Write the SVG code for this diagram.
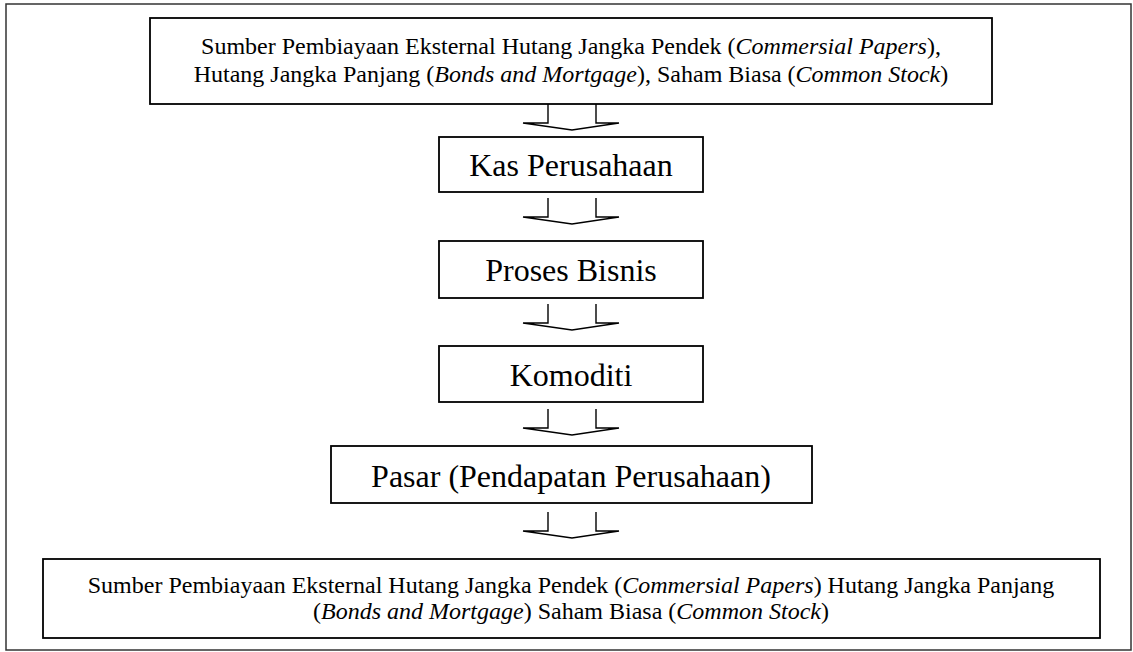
<svg xmlns="http://www.w3.org/2000/svg" width="1133" height="652" viewBox="0 0 1133 652">
  <style>
    .frame { fill: #ffffff; stroke: #333333; stroke-width: 1.5; }
    .box { fill: #ffffff; stroke: #000000; stroke-width: 1.8; }
    .arrow { fill: #ffffff; stroke: #000000; stroke-width: 1.4; stroke-linejoin: miter; }
    text { font-family: "Liberation Serif", "Times New Roman", "DejaVu Serif", serif; fill: #000000; text-anchor: middle; }
    .small { font-size: 24px; }
    .big { font-size: 32px; }
    .it { font-style: italic; font-family: "Liberation Serif", "Times New Roman", "DejaVu Serif", serif; }
  </style>
  <defs>
    <!-- hollow block arrow pointing down; origin at the top centre of the shaft -->
    <path id="blockArrow" class="arrow" d="M -24 0 L -24 19 L -49 19 L 0 26 L 47 19 L 24 19 L 24 0"/>
  </defs>

  <rect class="frame" x="6" y="4" width="1125" height="646"/>

  <g id="connectors">
    <use href="#blockArrow" x="572" y="104"/>
    <use href="#blockArrow" x="572" y="198"/>
    <use href="#blockArrow" x="572" y="304"/>
    <use href="#blockArrow" x="572" y="409"/>
    <use href="#blockArrow" x="572" y="512"/>
  </g>

  <g id="node-sumber-atas">
    <rect class="box" x="150" y="18" width="842" height="86"/>
    <text class="small" x="571" y="54">Sumber Pembiayaan Eksternal Hutang Jangka Pendek (<tspan class="it">Commersial Papers</tspan>),</text>
    <text class="small" x="571" y="82">Hutang Jangka Panjang (<tspan class="it">Bonds and Mortgage</tspan>), Saham Biasa (<tspan class="it">Common Stock</tspan>)</text>
  </g>

  <g id="node-kas">
    <rect class="box" x="439" y="137" width="264" height="55"/>
    <text class="big" x="571" y="176">Kas Perusahaan</text>
  </g>

  <g id="node-proses">
    <rect class="box" x="439" y="241" width="264" height="57"/>
    <text class="big" x="571" y="281">Proses Bisnis</text>
  </g>

  <g id="node-komoditi">
    <rect class="box" x="439" y="346" width="264" height="56"/>
    <text class="big" x="571" y="386">Komoditi</text>
  </g>

  <g id="node-pasar">
    <rect class="box" x="331" y="446" width="481" height="57"/>
    <text class="big" x="571" y="487">Pasar (Pendapatan Perusahaan)</text>
  </g>

  <g id="node-sumber-bawah">
    <rect class="box" x="43" y="559" width="1057" height="79"/>
    <text class="small" x="571" y="593">Sumber Pembiayaan Eksternal Hutang Jangka Pendek (<tspan class="it">Commersial Papers</tspan>) Hutang Jangka Panjang</text>
    <text class="small" x="571" y="619">(<tspan class="it">Bonds and Mortgage</tspan>) Saham Biasa (<tspan class="it">Common Stock</tspan>)</text>
  </g>
</svg>
